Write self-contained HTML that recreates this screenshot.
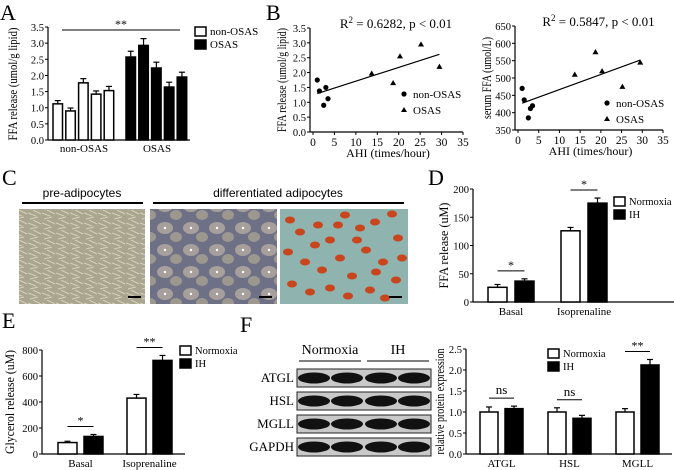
<!DOCTYPE html>
<html><head><meta charset="utf-8">
<style>
html,body{margin:0;padding:0;background:#fff;}
svg{display:block;font-family:"Liberation Serif",serif;}
</style></head>
<body>
<svg id="fig" width="674" height="470" viewBox="0 0 674 470" xmlns="http://www.w3.org/2000/svg">
  <defs>
    <pattern id="preTex" width="14" height="10" patternUnits="userSpaceOnUse">
      <rect width="14" height="10" fill="#a9a58e"/>
      <path d="M0 3 L8 6 M5 0 L13 4 M2 9 L10 7" stroke="#d4d1bd" stroke-width="1"/>
    </pattern>
    <pattern id="difTex" width="26" height="22" patternUnits="userSpaceOnUse">
      <rect width="26" height="22" fill="#6e7186"/>
      <ellipse cx="9" cy="8" rx="8" ry="6" fill="#a69f9c"/>
      <ellipse cx="20" cy="17" rx="6" ry="5" fill="#9c978f"/>
      <circle cx="9" cy="8" r="1.2" fill="#fff"/>
    </pattern>
  </defs>
  <text x="0" y="20" font-size="22">A</text>
  <text x="266" y="20" font-size="22">B</text>
  <text x="2" y="185" font-size="22">C</text>
  <text x="428" y="185" font-size="22">D</text>
  <text x="2" y="328" font-size="22">E</text>
  <text x="240" y="332" font-size="22">F</text>

  <g>
    <text x="82" y="197" font-size="12" text-anchor="middle" font-family="Liberation Sans, sans-serif">pre-adipocytes</text>
    <line x1="22" y1="203" x2="143" y2="203" stroke="#000" stroke-width="2"/>
    <text x="278" y="197" font-size="12" text-anchor="middle" font-family="Liberation Sans, sans-serif">differentiated adipocytes</text>
    <line x1="153" y1="203" x2="404" y2="203" stroke="#000" stroke-width="2"/>
    <rect x="19" y="209" width="126" height="95" fill="url(#preTex)"/>
    <rect x="150" y="209" width="127" height="95" fill="url(#difTex)"/>
    <rect x="280" y="209" width="128" height="95" fill="#8fb3ae"/>
    <g id="redblobs" fill="#c8451e"></g>
    <line x1="128" y1="297" x2="141" y2="297" stroke="#000" stroke-width="2"/>
    <line x1="259" y1="297" x2="272" y2="297" stroke="#000" stroke-width="2"/>
    <line x1="389" y1="297" x2="402" y2="297" stroke="#000" stroke-width="2"/>
  </g>

  <g id="blot">
    <text x="330" y="354" font-size="14" text-anchor="middle">Normoxia</text>
    <text x="398" y="354" font-size="14" text-anchor="middle">IH</text>
    <line x1="299" y1="361" x2="361" y2="361" stroke="#000" stroke-width="1"/>
    <line x1="367" y1="361" x2="429" y2="361" stroke="#000" stroke-width="1"/>
  </g>

  <g id="charts"></g>
</svg>
<script>
const A_groups = ['non-OSAS','OSAS'];
const A_non = [1.12, 0.90, 1.77, 1.42, 1.53];
const A_non_err = [0.10, 0.09, 0.13, 0.10, 0.13];
const A_osas = [2.57, 2.93, 2.23, 1.64, 1.95];
const A_osas_err = [0.18, 0.21, 0.18, 0.15, 0.15];
const A_ticks = [0,0.5,1,1.5,2,2.5,3,3.5];

const B1_non_x = [1.0, 1.5, 2.5, 3.0, 3.5];
const B1_non_y = [1.75, 1.38, 0.90, 1.50, 1.12];
const B1_osas_x = [13.7, 18.7, 20.3, 25.2, 29.5];
const B1_osas_y = [1.97, 1.65, 2.55, 2.95, 2.20];
const B1_yticks = [0,0.5,1,1.5,2,2.5,3,3.5];
const B_xticks = [0,5,10,15,20,25,30,35];

const B2_non_x = [1.0, 1.5, 2.5, 3.0, 3.5];
const B2_non_y = [470, 437, 385, 412, 420];
const B2_osas_x = [13.7, 18.7, 20.3, 25.2, 29.5];
const B2_osas_y = [510, 575, 520, 475, 545];
const B2_yticks = [350,400,450,500,550,600,650];

const D_groups = ['Basal','Isoprenaline'];
const D_norm = [26, 126];
const D_norm_err = [5, 6];
const D_ih = [37, 175];
const D_ih_err = [4, 9];
const D_ticks = [0,50,100,150,200];

const E_groups = ['Basal','Isoprenaline'];
const E_norm = [88, 430];
const E_norm_err = [10, 28];
const E_ih = [135, 720];
const E_ih_err = [15, 38];
const E_ticks = [0,200,400,600,800];

const F_groups = ['ATGL','HSL','MGLL'];
const F_norm = [1.0, 1.0, 1.0];
const F_norm_err = [0.12, 0.10, 0.08];
const F_ih = [1.08, 0.85, 2.12];
const F_ih_err = [0.06, 0.07, 0.13];
const F_ticks = [0,0.5,1,1.5,2,2.5];

const NS = 'http://www.w3.org/2000/svg';
const root = document.getElementById('charts');
function mk(tag, attrs, name, parent, text){
  const e = document.createElementNS(NS, tag);
  for (const k in attrs) e.setAttribute(k, attrs[k]);
  
  
  if (text !== undefined) e.textContent = text;
  (parent || root).appendChild(e);
  return e;
}
function lin(d0,d1,r0,r1){ return v => r0 + (v-d0)/(d1-d0)*(r1-r0); }
function fmt1(v){ return v.toFixed(1); }
function fmt0(v){ return String(v); }

function yAxis(g, x, yS, ticks, f, yTop, yBot){
  mk('line',{x1:x,y1:yTop,x2:x,y2:yBot,stroke:'#000','stroke-width':1.2},'y-axis-line',g);
  ticks.forEach(t=>{
    const y = yS(t);
    mk('line',{x1:x-3,y1:y,x2:x,y2:y,stroke:'#000','stroke-width':1},'y-tick',g);
    mk('text',{x:x-4,y:y+4,'font-size':10.5,'text-anchor':'end'},'y-tick-label',g,f(t));
  });
}
function yTitle(g, x, y, txt, len){
  mk('text',{x:x,y:y,'font-size':13,'text-anchor':'middle',textLength:len,lengthAdjust:'spacingAndGlyphs',transform:`rotate(-90 ${x} ${y})`},'y-axis-title',g,txt);
}
function bar(g, x, w, yS, v, err, black, name){
  const y0 = yS(0), y = yS(v), ye = yS(v+err);
  mk('line',{x1:x+w/2,y1:y,x2:x+w/2,y2:ye,stroke:'#000','stroke-width':1.2},name+'-errorbar',g);
  mk('line',{x1:x+w/2-3,y1:ye,x2:x+w/2+3,y2:ye,stroke:'#000','stroke-width':1.2},name+'-errorcap',g);
  mk('rect',{x:x,y:y,width:w,height:y0-y,fill:black?'#000':'#fff',stroke:'#000','stroke-width':1.5},name,g);
}
function sig(g, x1, x2, y, txt){
  mk('line',{x1:x1,y1:y,x2:x2,y2:y,stroke:'#000','stroke-width':1},'significance-line',g);
  mk('text',{x:(x1+x2)/2,y:y-(txt==='ns'?4:2),'font-size':txt==='ns'?13:12,'text-anchor':'middle'},'significance-label',g,txt);
}
function legendBars(g, x, y, labels, fs){
  labels.forEach((l,i)=>{
    mk('rect',{x:x,y:y+i*13-8,width:11,height:9,fill:i?'#000':'#fff',stroke:'#000','stroke-width':1.5},'legend-swatch',g);
    mk('text',{x:x+15,y:y+i*13,'font-size':fs||11},'legend-entry',g,l);
  });
}

(function(){
  const g = mk('g',{},'panel-a-chart');
  const yS = lin(0,3.5,140,27);
  yAxis(g,48,yS,A_ticks,fmt1,27,140);
  mk('line',{x1:48,y1:140,x2:190,y2:140,stroke:'#000','stroke-width':1.2},'x-axis-line',g);
  const starts = [53,126];
  const series = [[A_non,A_non_err,false],[A_osas,A_osas_err,true]];
  series.forEach((s,gi)=>{
    s[0].forEach((v,i)=>bar(g,starts[gi]+i*12.8,9.5,yS,v,s[1][i],s[2],'bar-'+A_groups[gi]+'-'+(i+1)));
    mk('text',{x:starts[gi]+31,y:152,'font-size':11,'text-anchor':'middle'},'x-tick-label',g,A_groups[gi]);
  });
  sig(g,62,180,30,'**');
  yTitle(g,17,84,'FFA release (umol/g lipid)',113);
  legendBars(g,195,35,['non-OSAS','OSAS'],11);
})();

function scatter(name, x0px, x1px, yTop, yBot, yDom, yticks, yf, nx, ny, ox, oy, title, ytitle, ytx, ylen, legX, legY){
  const g = mk('g',{},name);
  const xS = lin(0,35,x0px,x1px), yS = lin(yDom[0],yDom[1],yBot,yTop);
  yAxis(g,x0px-3,yS,yticks,yf,yTop,yBot);
  mk('line',{x1:x0px-3,y1:yBot,x2:x1px,y2:yBot,stroke:'#000','stroke-width':1.2},'x-axis-line',g);
  B_xticks.forEach(t=>{
    mk('line',{x1:xS(t),y1:yBot,x2:xS(t),y2:yBot+3,stroke:'#000'},'x-tick',g);
    mk('text',{x:xS(t),y:yBot+14,'font-size':11.5,'text-anchor':'middle'},'x-tick-label',g,String(t));
  });
  mk('text',{x:(x0px+x1px)/2,y:yBot+25,'font-size':12,'text-anchor':'middle'},'x-axis-title',g,'AHI (times/hour)');
  yTitle(g,ytx,(yTop+yBot)/2,ytitle,ylen);
  const xs = nx.concat(ox), ys = ny.concat(oy), n = xs.length;
  const mx = xs.reduce((a,b)=>a+b)/n, my = ys.reduce((a,b)=>a+b)/n;
  let sxy=0,sxx=0; xs.forEach((x,i)=>{sxy+=(x-mx)*(ys[i]-my); sxx+=(x-mx)*(x-mx);});
  const b = sxy/sxx, a = my-b*mx;
  const xa = Math.min(...xs), xb = Math.max(...xs);
  mk('line',{x1:xS(xa),y1:yS(a+b*xa),x2:xS(xb),y2:yS(a+b*xb),stroke:'#000','stroke-width':1.2},'regression-line',g);
  nx.forEach((x,i)=>mk('circle',{cx:xS(x),cy:yS(ny[i]),r:2.6,fill:'#000'},'point-non-osas',g));
  ox.forEach((x,i)=>{const cx=xS(x),cy=yS(oy[i]);
    mk('path',{d:`M${cx} ${cy-3} L${cx+3} ${cy+2.2} L${cx-3} ${cy+2.2} Z`,fill:'#000'},'point-osas',g);});
  const t = mk('text',{x:(x0px+x1px)/2+8,y:yTop,'font-size':13,'text-anchor':'middle'},'r-squared-title',g);
  t.innerHTML = 'R<tspan dy="-5" font-size="9">2</tspan><tspan dy="5"> = '+title+', p &lt; 0.01</tspan>';
  mk('circle',{cx:legX,cy:legY-4,r:2.6,fill:'#000'},'legend-marker-non-osas',g);
  mk('text',{x:legX+9,y:legY,'font-size':11},'legend-entry',g,'non-OSAS');
  mk('path',{d:`M${legX} ${legY+9} L${legX+3} ${legY+14} L${legX-3} ${legY+14} Z`,fill:'#000'},'legend-marker-osas',g);
  mk('text',{x:legX+9,y:legY+16,'font-size':11},'legend-entry',g,'OSAS');
}
scatter('panel-b-left-chart',313,463,28,132,[0,3.5],B1_yticks,fmt1,B1_non_x,B1_non_y,B1_osas_x,B1_osas_y,'0.6282','FFA release (umol/g lipid)',286,104,404,98);
scatter('panel-b-right-chart',518,663,26,130,[350,650],B2_yticks,fmt0,B2_non_x,B2_non_y,B2_osas_x,B2_osas_y,'0.5847','serum FFA (umol/L)',491,82,607,107);

function grouped(name, axX, axEnd, yTop, yBot, maxV, ticks, f, groups, norm, normE, ih, ihE, gStart, gStep, bw, gap, sigs, ytitle, ytx, ylen, legX, legY, legFs){
  const g = mk('g',{},name);
  const yS = lin(0,maxV,yBot,yTop);
  yAxis(g,axX,yS,ticks,f,yTop,yBot);
  mk('line',{x1:axX,y1:yBot,x2:axEnd,y2:yBot,stroke:'#000','stroke-width':1.2},'x-axis-line',g);
  groups.forEach((gr,i)=>{
    const x = gStart + i*gStep;
    bar(g,x,bw,yS,norm[i],normE[i],false,'bar-normoxia-'+gr);
    bar(g,x+bw+gap,bw,yS,ih[i],ihE[i],true,'bar-ih-'+gr);
    mk('text',{x:x+bw+gap/2,y:yBot+13,'font-size':11,'text-anchor':'middle'},'x-tick-label',g,gr);
    const top = Math.max(norm[i]+normE[i], ih[i]+ihE[i]);
    if (sigs[i]) sig(g,x+bw/2,x+bw*1.5+gap,yS(top)-8,sigs[i]);
  });
  yTitle(g,ytx,(yTop+yBot)/2,ytitle,ylen);
  legendBars(g,legX,legY,['Normoxia','IH'],legFs||11);
}
grouped('panel-d-chart',473,674,189,302,200,D_ticks,fmt0,D_groups,D_norm,D_norm_err,D_ih,D_ih_err,488,73,19,8,['*','*'],'FFA release (uM)',448,86,614,205,10.5);
grouped('panel-e-chart',42,185,350,454,800,E_ticks,fmt0,E_groups,E_norm,E_norm_err,E_ih,E_ih_err,58,69,19,7,['*','**'],'Glycerol release (uM)',14,104,180,354,10.5);
grouped('panel-f-chart',466,672,349,454,2.5,F_ticks,fmt1,F_groups,F_norm,F_norm_err,F_ih,F_ih_err,480,68,18,7,['ns','ns','**'],'relative protein expression',444,106,548,357,10.5);

(function(){
  const blot = document.getElementById('blot');
  const rows = ['ATGL','HSL','MGLL','GAPDH'];
  const rowY = [369,392,415,438];
  const lanes = [314,347,381,414];
  rows.forEach((r,i)=>{
    mk('text',{x:294,y:rowY[i]+13,'font-size':13,'text-anchor':'end'},'blot-label-'+r.toLowerCase(),blot,r);
    mk('rect',{x:297,y:rowY[i],width:134,height:18,fill:'#c9c9c9',stroke:'#222','stroke-width':1},'blot-row-'+r.toLowerCase(),blot);
    lanes.forEach(cx=>mk('ellipse',{cx:cx,cy:rowY[i]+9,rx:16,ry:5.5,fill:'#111'},'blot-band',blot));
  });
})();

(function(){
  const gb = document.getElementById('redblobs');
  const pts = [[290,220],[300,232],[318,225],[330,240],[345,215],[360,228],[375,222],[392,214],[398,238],[288,252],[305,262],[322,270],[340,258],[352,276],[366,250],[383,262],[396,280],[292,284],[310,292],[330,288],[348,296],[370,290],[385,298],[402,258],[315,245],[357,240],[376,272],[338,225]];
  pts.forEach(p=>mk('ellipse',{cx:p[0],cy:p[1],rx:5,ry:3.5},'lipid-droplet',gb));
})();
</script>
</body></html>
